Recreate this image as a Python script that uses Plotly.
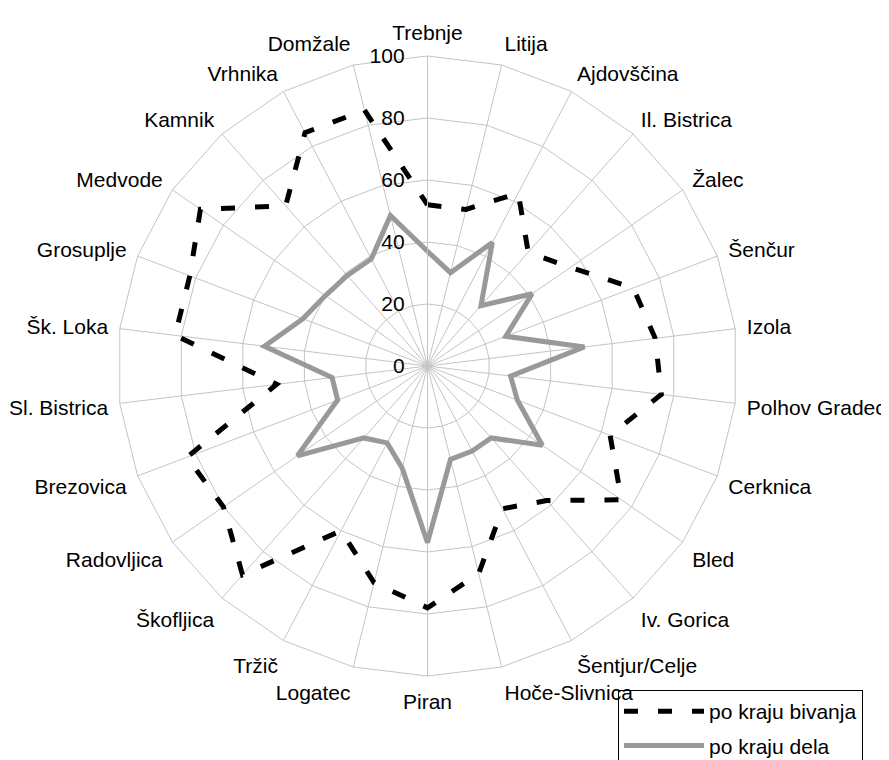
import plotly.graph_objects as go

categories = ["Trebnje", "Litija", "Ajdovščina", "Il. Bistrica", "Žalec", "Šenčur",
              "Izola", "Polhov Gradec", "Cerknica", "Bled", "Iv. Gorica",
              "Šentjur/Celje", "Hoče-Slivnica", "Piran", "Logatec", "Tržič",
              "Škofljica", "Radovljica", "Brezovica", "Sl. Bistrica", "Šk. Loka",
              "Grosuplje", "Medvode", "Kamnik", "Vrhnika", "Domžale"]

po_kraju_bivanja = [52, 52, 63, 49, 56, 71, 74, 76, 63, 76, 58, 52, 69, 78, 72, 60,
                    90, 80, 83, 49, 82, 82, 89, 69, 85, 85]

po_kraju_dela = [37, 31, 45, 26, 41, 27, 51, 27, 31, 45, 31, 31, 31, 57, 34, 28,
                 31, 51, 31, 31, 53, 43, 40, 39, 39, 50]

radial_ticks = [0, 20, 40, 60, 80, 100]

theta = categories + categories[:1]

fig = go.Figure()
fig.add_trace(go.Scatterpolar(
    r=po_kraju_bivanja + po_kraju_bivanja[:1], theta=theta,
    mode="lines", name="po kraju bivanja", legendgroup="a",
    line=dict(color="black", width=5, dash="14px,20px"),
))
fig.add_trace(go.Scatterpolar(
    r=po_kraju_dela + po_kraju_dela[:1], theta=theta,
    mode="lines", name="po kraju dela", legendgroup="b",
    line=dict(color="#999999", width=5),
))

W, H = 889, 760
# page body has an 8px margin, so figure coords = screen coords - 8
cx, cy, R = 419.5, 358, 310

fig.update_layout(
    width=W, height=H,
    margin=dict(l=0, r=0, t=0, b=0),
    paper_bgcolor="white",
    font=dict(family="Liberation Sans, Arial, sans-serif", size=21, color="black"),
    polar=dict(
        domain=dict(x=[(cx - R) / W, (cx + R) / W],
                    y=[(H - cy - R) / H, (H - cy + R) / H]),
        bgcolor="white",
        gridshape="linear",
        angularaxis=dict(
            direction="clockwise", rotation=90, type="category",
            categoryorder="array", categoryarray=categories,
            showgrid=True, gridcolor="#c4c4c4", gridwidth=1,
            showline=True, linecolor="#c4c4c4", linewidth=1,
            ticks="outside", ticklen=7, tickcolor="rgba(0,0,0,0)",
            tickfont=dict(size=21, color="black"),
        ),
        radialaxis=dict(
            range=[0, 100], tickvals=radial_ticks, ticktext=[str(v) for v in radial_ticks],
            angle=90, tickangle=90, side="counterclockwise",
            showgrid=True, gridcolor="#c4c4c4", gridwidth=1,
            showline=True, linecolor="#c4c4c4", linewidth=1,
            ticks="outside", ticklen=15, tickcolor="rgba(0,0,0,0)",
            tickfont=dict(size=21, color="black"),
        ),
    ),
    showlegend=True,
    legend=dict(
        x=610 / W, y=(H - 682) / H, xanchor="left", yanchor="top",
        bordercolor="black", borderwidth=1, bgcolor="rgba(255,255,255,0)",
        font=dict(size=21, color="black"),
        itemwidth=80, tracegroupgap=4,
    ),
)

fig.write_html("out.html")
